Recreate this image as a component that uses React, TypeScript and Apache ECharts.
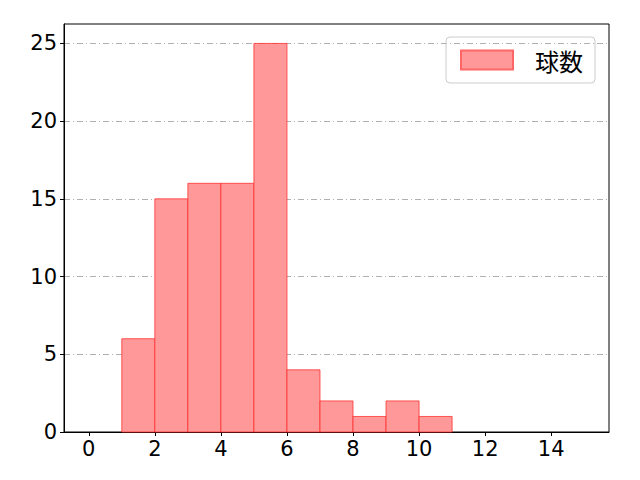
import React, { useEffect, useRef } from "react";
import * as echarts from "echarts";

const binStarts = [1, 2, 3, 4, 5, 6, 7, 8, 9, 10];
const binWidth = 1;
const counts = [6, 15, 16, 16, 25, 4, 2, 1, 2, 1];
const xTicks = [0, 2, 4, 6, 8, 10, 12, 14];
const yTicks = [0, 5, 10, 15, 20, 25];
const seriesName = "球数";

const FONT = "'Noto Sans CJK JP', 'Noto Sans', sans-serif";
const NUM_FONT = "'DejaVu Sans', sans-serif";

export default function App() {
  const ref = useRef<HTMLDivElement>(null);
  useEffect(() => {
    if (!ref.current) return;
    const chart = echarts.init(ref.current, undefined, { renderer: "svg" });
    const data = binStarts.map((s, i) => [s, s + binWidth, counts[i]]);
    chart.setOption({
      animation: false,
      grid: {
        left: 64,
        right: 31,
        top: 24,
        bottom: 48,
        show: true,
        borderColor: "#000",
        borderWidth: 1,
        backgroundColor: "transparent",
      },
      legend: {
        data: [{ name: seriesName, icon: "rect" }],
        right: 45,
        top: 37,
        padding: [11, 12, 11, 14],
        itemWidth: 52,
        itemHeight: 19,
        itemGap: 10,
        borderColor: "#cccccc",
        borderWidth: 1,
        borderRadius: 4,
        textStyle: { fontSize: 24, fontFamily: FONT, color: "#000", padding: [0, 0, 0, 17] },
      },
      xAxis: {
        type: "value",
        min: -0.75,
        max: 15.75,
        axisLine: { show: true, onZero: false, lineStyle: { color: "#000", width: 1 } },
        axisTick: { show: true, length: 4, inside: false, customValues: xTicks, lineStyle: { color: "#000" } },
        axisLabel: { customValues: xTicks, fontSize: 21, fontFamily: NUM_FONT, color: "#000", margin: 6 },
        splitLine: { show: false },
      },
      yAxis: {
        type: "value",
        min: 0,
        max: 26.25,
        interval: 5,
        axisLine: { show: true, onZero: false, lineStyle: { color: "#000", width: 1 } },
        axisTick: { show: true, length: 4, customValues: yTicks, lineStyle: { color: "#000" } },
        axisLabel: {
          customValues: yTicks,
          fontSize: 21,
          fontFamily: NUM_FONT,
          color: "#000",
          margin: 7,
        },
        splitLine: {
          show: true,
          lineStyle: { color: "#b0b0b0", width: 1, type: [6, 3, 1, 3] },
        },
      },
      series: [
        {
          name: seriesName,
          type: "custom",
          itemStyle: { color: "#ff9999", borderColor: "#ff6666", borderWidth: 1 },
          encode: { x: [0, 1], y: 2 },
          data,
          renderItem: (params: any, api: any) => {
            const p0 = api.coord([api.value(0), api.value(2)]);
            const p1 = api.coord([api.value(1), 0]);
            return {
              type: "rect",
              shape: { x: p0[0], y: p0[1], width: p1[0] - p0[0], height: p1[1] - p0[1] },
              style: { fill: "#ff9999", stroke: "rgba(255,40,40,0.75)", lineWidth: 1 },
            };
          },
        },
      ],
    });
    return () => chart.dispose();
  }, []);
  return <div ref={ref} style={{ width: 640, height: 480, margin: -8 }} />;
}
